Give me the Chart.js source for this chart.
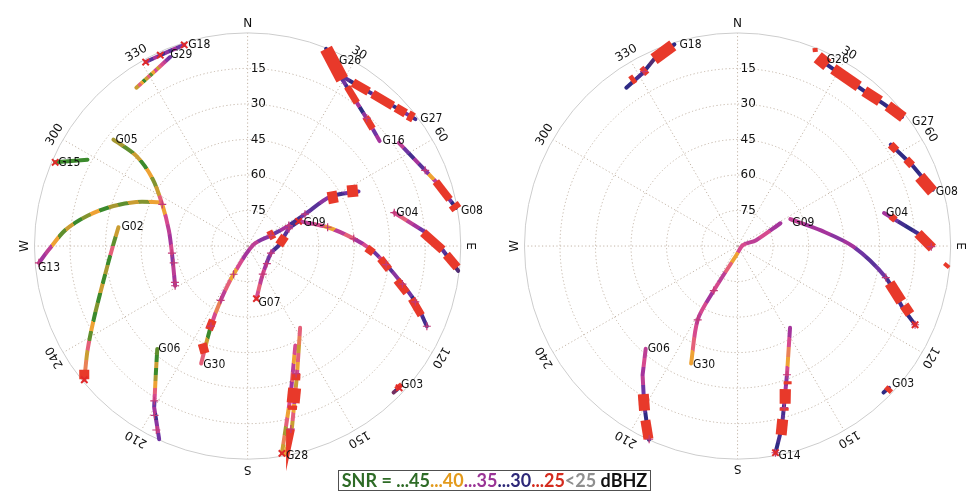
<!DOCTYPE html>
<html><head><meta charset="utf-8">
<script src="https://cdn.jsdelivr.net/npm/chart.js@4.4.1/dist/chart.umd.min.js"></script>
<style>
html,body{margin:0;padding:0;background:#fff;}
#wrap{position:relative;width:976px;height:495px;overflow:hidden;background:#fff;}
#cA{position:absolute;left:0;top:0;}
#cB{position:absolute;left:490px;top:0;}
#legend{position:absolute;left:338px;top:470px;width:311px;height:19px;border:1.5px solid #505050;background:#fff;
 font:700 18px Lato, "Open Sans", sans-serif;line-height:19px;text-align:center;white-space:nowrap;}
</style></head>
<body>
<div id="wrap">
<canvas id="cA" width="490" height="495"></canvas>
<canvas id="cB" width="486" height="495"></canvas>
<div id="legend"><span style="color:#2e6b26">SNR = ...45</span><span style="color:#e39a1c">...40</span><span style="color:#9a3596">...35</span><span style="color:#2d2878">...30</span><span style="color:#d42b1e">...25</span><span style="color:#8f8f8f">&lt;25</span><span style="color:#111"> dBHZ</span></div>
</div>
<script>
// ---------------- DATA ----------------
const ringElevations = [75, 60, 45, 30, 15];
const ringLabels = ['75', '60', '45', '30', '15'];
const azimuthTicks = [0, 30, 60, 90, 120, 150, 180, 210, 240, 270, 300, 330];
const azimuthLabels = ['N', '30', '60', 'E', '120', '150', 'S', '210', '240', 'W', '300', '330'];

// Left skyplot: satellite tracks (azimuth deg, elevation deg, SNR dBHz samples along track)
const satsA = ['G18','G29','G26','G27','G16','G08','G04','G09','G07','G30','G14','G28','G06','G02','G05','G13','G15','G03'];
const azA = [
 [342.5,339.0,335.4,331.0],
 [337.7,331.5,324.9],
 [21.7,25.4,29.6],
 [52.9,45.4,38.1,29.2],
 [51.5,43.0,37.3,29.6],
 [79.6,71.1,66.9,55.7],
 [77.2,85.5,91.1,96.7],
 [65.7,76.8,86.0,91.8,97.6,103.8,108.4,114.1],
 [170.5,151.7,106.9,88.2,67.3,64.2],
 [201.6,204.6,206.4,206.4,80.0,65.4,63.6,61.0,59.2,63.8],
 [169.7,166.2,159.0,147.3],
 [170.6,164.0,154.4],
 [221.3,215.5,210.1,204.6],
 [278.3,271.1,257.0,244.9,236.9,230.7],
 [308.4,309.0,305.3,296.0,281.2,264.6,241.3],
 [265.4,268.9,274.9,280.7,286.6,291.6,296.6],
 [293.5,298.3],
 [133.1,135.1]
];
const elA = [
 [1.0,1.3,1.4,1.2],
 [3.8,6.6,8.3],
 [0.4,4.9,9.1],
 [1.2,5.0,7.2,8.0],
 [18.8,16.3,13.9,9.1],
 [0.6,6.0,8.5,12.7],
 [26.5,14.8,7.7,0.5],
 [65.0,55.3,45.1,37.6,31.0,22.7,15.4,7.1],
 [67.5,76.5,79.7,76.7,71.1,66.1],
 [36.7,52.8,64.4,76.7,87.7,79.2,70.6,62.3,49.1,37.8],
 [0.6,11.4,31.8,49.0],
 [1.3,24.2,43.4],
 [32.2,23.2,11.3,0.3],
 [34.9,33.4,27.7,18.4,9.3,0.9],
 [17.7,29.5,40.8,49.9,56.1,57.9,55.1],
 [1.6,6.0,12.6,21.2,30.9,39.4,48.7],
 [1.4,13.2],
 [2.4,2.7]
];
const snrA = [
 [34,33,35,32,34,31,33,35,32,34],
 [33,34,36,37,38,41,37,40,44,38,41,46,40,38,41],
 [30,31,29,32],
 [31,33,30,34,32,35,31,33,30,32],
 [35,33,36,31,34,30,35,32,34,31,33],
 [30,33,31,34,36,40,34,32,35,31,33,36],
 [37,38,36,35,33,31,34,30,32,31,30,29],
 [36,37,40,36,38,35,37,33,36,32,34,31,33,30,32,31],
 [37,38,36,37,35,33,34,31,33,32,34,31],
 [38,41,45,37,39,36,38,40,37,35,36,34,33,35,31,33,32,34,31,33],
 [40,42,39,41,38,40,36,39,41,37,40,38,41,39,38],
 [41,39,42,38,40,37,39,35,38,36,40,37],
 [44,46,41,45,42,40,38,37,33,35,31,34,36,33],
 [41,44,38,46,42,45,41,47,43,46,40,44,38,41,39,37],
 [42,44,41,45,40,43,41,38,40,37,36,35,37,34,36,35],
 [35,36,40,44,41,46,43,40,45,42,44,41,43,40],
 [46,47,45,47],
 [33,30,28]
];
// loss-of-lock stretches (az1, el1, az2, el2)
const slipsA = [
 [21.7,0.4,29.6,9.1],[32.8,7.9,38.1,7.2],[39.4,6.9,46.0,4.8],[47.0,4.4,50.0,2.9],[50.8,2.5,52.3,1.5],
 [32.0,10.7,37.3,13.9],[42.5,16.2,46.8,17.6],[71.1,6.0,77.0,2.5],[78.5,1.4,80.0,0.3],
 [85.6,15.7,91.1,7.7],[92.5,6.0,95.8,1.1],[90.9,39.7,93.1,36.8],[95.4,33.7,99.4,29.5],
 [102.9,25.4,106.4,20.0],[107.8,17.3,111.7,11.1],[59.2,50.6,61.1,46.6],[61.3,42.1,63.3,37.9],
 [64.9,80.3,64.5,77.6],[205.0,44.6,201.7,41.3],[204.8,51.1,205.2,55.5],[88.2,76.7,75.4,73.7],
 [161.7,26.8,163.8,21.1],[159.2,32.4,160.3,29.8],[164.2,20.0,164.7,18.4],[166.7,10.6,167.2,9.1],
 [232.9,3.5,230.8,1.0],[134.0,3.0,131.9,2.6]
];
const ticksA = [
 [296,49.9],[264.6,57.9],[257.2,58],[243.5,55.7],[241.3,55.1],[211.1,13.7],[208.8,8.4],[206.4,3.3],
 [151.7,76.5],[132.3,79],[106.9,79.7],[67.3,71.1],[76.8,55.3],[86,45.1],[97.6,31],[103.8,22.7],
 [108.4,15.4],[114.1,7.1],[204.6,52.8],[206.4,64.4],[206.4,76.7],[65.4,79.2],[63.6,70.6],[61,62.3],
 [43,16.3],[66.9,8.5],[77.2,26.5],[159.2,32.4],[166.7,10.6],[265.4,1.6]
];
const marksA = [[342.5,1.0],[335.4,1.4],[331.0,1.2],[293.5,1.4],[170.5,67.5],[64.2,66.1],[230.7,0.9],[133.1,2.4],[170.6,1.3]];

// Right skyplot
const satsB = ['G18','G26','G27','G08','G04','G09','G30','G14','G06','G03'];
const azB = [
 [342.6,335.9,331.5,324.9],
 [24.1,31.6,39.3],
 [51.9,45.8,39.9],
 [73.9,65.0,56.5],
 [77.3,86.0,90.2],
 [63.0,79.4,90.3,102.0,110.2,113.9],
 [201.6,208.4,208.1,186.3,80.0,72.5,62.0],
 [169.6,166.2,159.0,147.3],
 [221.8,216.4,210.6,204.6],
 [133.1,135.1]
];
const elB = [
 [0.8,3.6,6.6,8.3],
 [4.0,5.5,5.5],
 [1.7,3.9,5.3],
 [4.2,8.8,12.4],
 [26.6,13.6,8.2],
 [65.0,54.2,41.1,26.0,16.0,8.0],
 [36.7,54.6,68.7,86.3,87.7,81.8,69.5],
 [1.3,11.4,31.8,49.0],
 [31.8,22.4,12.5,0.1],
 [2.4,2.7]
];
const snrB = [
 [30,31,29,30,31,30],
 [30,31,30],
 [31,30,31],
 [30,31,30,32,30,31],
 [35,33,31,30,31,30,29],
 [36,35,35,34,35,33,32,33,31,30,31,30],
 [40,38,37,36,37,35,37,36,38,40,37,36,37,35],
 [30,31,30,32,31,33,35,34,37,40,39,37,35],
 [36,37,35,36,33,31,32,30,31,30],
 [31,30]
];
const slipsB = [
 [335.9,3.6,342.1,1.0],[331.2,6.5,332.7,6.0],[327.1,7.0,328.5,6.9],[23.0,3.4,26.4,4.7],
 [28.4,5.0,37.2,5.4],[39.3,5.5,44.5,4.2],[47.0,3.2,52.2,1.4],[21.0,1.5,22.2,0.5],
 [56.5,12.5,59.0,11.7],[62.8,9.9,65.2,8.8],[69.2,7.7,74.4,4.5],[78.9,24.1,80.6,22.4],
 [86.0,13.6,90.6,7.7],[94.8,2.4,95.8,0.2],[103.7,23.9,108.7,17.0],[109.6,15.3,111.5,11.7],
 [165.4,14.4,167.0,8.2],[161.5,26.3,163.2,20.5],[163.9,19.0,164.2,17.8],[159.7,29.1,160.1,27.9],
 [212.5,15.9,209.5,10.2],[207.9,6.8,204.8,0.3],[133.6,3.6,133.5,0.4]
];
const ticksB = [[208.1,68.7],[208.4,54.6],[159,31.8],[163.9,19],[102,26],[113.9,8],[331.8,6.4],[90.2,8.2],[204.6,0.3],[169.6,1.3]];
const marksB = [[113.9,8.0],[169.6,1.3]];

// ---------------- STYLE ----------------
const slipSizeA = [13,9,9,9,10,7,7,8,11,9,9,8,8,8,8,12,12,9,9,8,9,13,9,9,8,10,5];
const slipSizeB = [12,9,9,13,11,11,11,4,8,8,12,7,10,4,11,10,11,11,9,8,11,10,5];
const labelOffsetA = {G18:[4,0],G29:[0,-2],G26:[13,12],G27:[5,0],G16:[3,0],G08:[5,3],G04:[2,0],G09:[2,1],
 G07:[2,4],G30:[2,1],G28:[4,3],G06:[1,0],G02:[3,0],G05:[2,0],G13:[-1,5],G15:[3,1],G03:[2,-3]};
const labelOffsetB = {G18:[5,0],G26:[6,0],G27:[10,5],G08:[3,2],G04:[2,0],G09:[2,4],G30:[2,1],G14:[3,3],G06:[2,0],G03:[3,-4]};
const hiddenLabelsA = ['G14'];
const snrStops = [[25,[216,54,42]],[30,[47,43,133]],[33,[111,53,163]],[35,[165,52,156]],[37.5,[226,80,138]],[40,[238,162,52]],[45,[59,138,44]]];
const gridColor = '#c2b4a6';

const DEG = Math.PI/180;
function toXY(az, el){ const z = 90 - el; return {x: z*Math.sin(az*DEG), y: z*Math.cos(az*DEG)}; }
function snrColor(s){
  if (s < 25) return '#8a8a8a';
  if (s >= 45) return 'rgb(59,138,44)';
  for (let i=0;i<snrStops.length-1;i++){
    const [a,ca]=snrStops[i], [b,cb]=snrStops[i+1];
    if (s>=a && s<=b){ const t=(s-a)/(b-a);
      return 'rgb('+ca.map((v,k)=>Math.round(v+(cb[k]-v)*t)).join(',')+')'; }
  }
  return '#888';
}
function trackGradient(ctx){
  const chart = ctx.chart;
  if (!chart.chartArea) return '#888';
  const ds = chart.data.datasets[ctx.datasetIndex];
  const p = ds.data, xs = chart.scales.x, ys = chart.scales.y;
  const x0 = xs.getPixelForValue(p[0].x), y0 = ys.getPixelForValue(p[0].y);
  const x1 = xs.getPixelForValue(p[p.length-1].x), y1 = ys.getPixelForValue(p[p.length-1].y);
  const g = chart.ctx.createLinearGradient(x0,y0,x1,y1);
  const n = ds.snr.length;
  ds.snr.forEach((v,i)=>{ const c=snrColor(v); g.addColorStop(i/n, c); g.addColorStop(Math.min(1,(i+1)/n-0.0001), c); });
  return g;
}

const polarGrid = {
  id: 'polarGrid',
  beforeDatasetsDraw(chart){
    const {ctx} = chart, xs = chart.scales.x, ys = chart.scales.y;
    const cx = xs.getPixelForValue(0), cy = ys.getPixelForValue(0);
    const rad = z => xs.getPixelForValue(z) - cx;
    ctx.save();
    ctx.lineWidth = 1; ctx.strokeStyle = gridColor; ctx.setLineDash([1.2,2.4]);
    ringElevations.forEach(e => { ctx.beginPath(); ctx.arc(cx, cy, rad(90-e), 0, 2*Math.PI); ctx.stroke(); });
    azimuthTicks.forEach(a => { const R = rad(90);
      ctx.beginPath(); ctx.moveTo(cx, cy); ctx.lineTo(cx + R*Math.sin(a*DEG), cy - R*Math.cos(a*DEG)); ctx.stroke(); });
    ctx.setLineDash([]); ctx.strokeStyle = '#cdcdcd';
    ctx.beginPath(); ctx.arc(cx, cy, rad(90), 0, 2*Math.PI); ctx.stroke();
    ctx.fillStyle = '#111'; ctx.font = '12px "DejaVu Sans", sans-serif';
    ctx.textAlign = 'left'; ctx.textBaseline = 'middle';
    ringElevations.forEach((e,i) => ctx.fillText(ringLabels[i], cx + 3, cy - rad(90-e)));
    ctx.textAlign = 'center';
    azimuthTicks.forEach((a,i) => { const R = rad(94);
      ctx.save(); ctx.translate(cx + R*Math.sin(a*DEG), cy - R*Math.cos(a*DEG)); ctx.rotate(a*DEG);
      ctx.fillText(azimuthLabels[i], 0, 0); ctx.restore(); });
    ctx.restore();
  },
  afterDatasetsDraw(chart){
    const {ctx} = chart, xs = chart.scales.x, ys = chart.scales.y;
    const offs = chart.options.plugins.polarGrid.offsets, hidden = chart.options.plugins.polarGrid.hidden;
    ctx.save();
    ctx.fillStyle = '#111'; ctx.font = '12px "DejaVu Sans Condensed", "DejaVu Sans", sans-serif';
    ctx.textAlign = 'left'; ctx.textBaseline = 'middle';
    chart.data.datasets.forEach(ds => {
      if (!ds.isTrack || hidden.includes(ds.label)) return;
      const o = offs[ds.label] || [3,0];
      ctx.fillText(ds.label, xs.getPixelForValue(ds.data[0].x) + o[0], ys.getPixelForValue(ds.data[0].y) + o[1]);
    });
    ctx.restore();
  }
};

function buildDatasets(sats, az, el, snr, slips, slipSize, ticks, marks){
  const out = [];
  sats.forEach((s,i) => out.push({
    label: s, isTrack: true, snr: snr[i],
    data: az[i].map((a,j) => toXY(a, el[i][j])),
    borderColor: trackGradient, borderWidth: 4, pointRadius: 0, tension: az[i].length > 4 ? 0.3 : 0,
    borderCapStyle: 'round', borderJoinStyle: 'round', fill: false, order: 3, clip: false
  }));
  slips.forEach((g,i) => out.push({
    label: 'slip', data: [toXY(g[0],g[1]), toXY(g[2],g[3])],
    borderColor: '#e8392a', borderWidth: slipSize[i], pointRadius: 0, borderCapStyle: 'butt', order: 2, clip: false
  }));
  out.push({label:'ticks', data: ticks.map(t => toXY(t[0],t[1])), showLine:false, pointStyle:'cross',
    pointRadius:4, pointBorderColor:'#c23a78', pointBorderWidth:1.2, order:1, clip:false});
  out.push({label:'marks', data: marks.map(t => toXY(t[0],t[1])), showLine:false, pointStyle:'crossRot',
    pointRadius:4.5, pointBorderColor:'#e02a2a', pointBorderWidth:2, order:0, clip:false});
  return out;
}

function makeChart(id, width, datasets, offsets, hidden){
  const k = 2.433, cxPix = 247.7, cyPix = 246;
  return new Chart(document.getElementById(id), {
    type: 'line',
    data: { datasets },
    options: {
      responsive: false, animation: false, events: [],
      layout: { padding: 0 },
      plugins: { legend: {display:false}, tooltip: {enabled:false}, polarGrid: {offsets, hidden} },
      scales: {
        x: { type:'linear', display:false, min: -cxPix/k, max: (width-cxPix)/k },
        y: { type:'linear', display:false, min: -(495-cyPix)/k, max: cyPix/k }
      }
    },
    plugins: [polarGrid]
  });
}

makeChart('cA', 490, buildDatasets(satsA, azA, elA, snrA, slipsA, slipSizeA, ticksA, marksA), labelOffsetA, hiddenLabelsA);
makeChart('cB', 486, buildDatasets(satsB, azB, elB, snrB, slipsB, slipSizeB, ticksB, marksB), labelOffsetB, []);
</script>
</body></html>
